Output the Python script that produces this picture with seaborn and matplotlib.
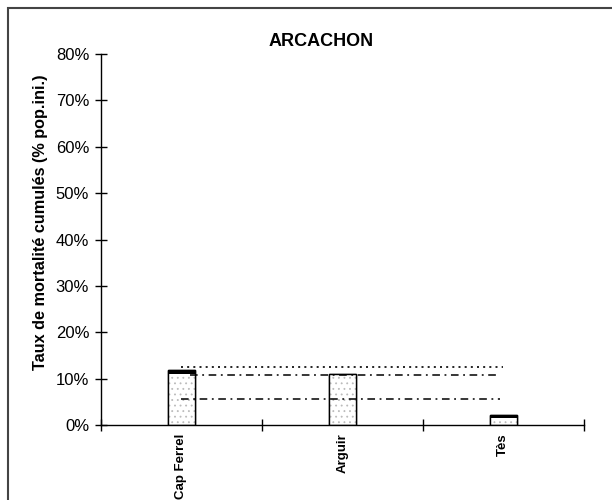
import pandas as pd
import seaborn as sns
import matplotlib

matplotlib.use('Agg')
import matplotlib.pyplot as plt
from matplotlib.patches import Rectangle
from matplotlib.ticker import FuncFormatter, FixedLocator

# données (% de la population initiale)
sites = ["Cap Ferrel", "Arguir", "Tès"]
mort_base = [10.9, 10.7, 1.6]      # partie pointillée
mort_total = [11.85, 11.1, 2.2]    # sommet du segment noir
ref_pointille = 12.5
ref_tiret_haut = 10.8
ref_tiret_bas = 5.5

df = pd.DataFrame({"site": sites, "base": mort_base, "total": mort_total})

sns.set_style("white")
plt.rcParams['font.family'] = ['Liberation Sans', 'DejaVu Sans']
plt.rcParams['hatch.linewidth'] = 0.6
plt.rcParams['text.color'] = 'black'
plt.rcParams['axes.labelcolor'] = 'black'
plt.rcParams['xtick.color'] = 'black'
plt.rcParams['ytick.color'] = 'black'

fig = plt.figure(figsize=(6.12, 5.0), dpi=100)
ax = fig.add_axes([0.165, 0.15, 0.789, 0.742])

# cadre du graphique
fig.patches.append(Rectangle((8 / 612, -0.05), 1.1, 1 - 8 / 500 + 0.05, transform=fig.transFigure,
                             fill=False, edgecolor="#444444", linewidth=1.5))

# segment noir = total, partie pointillée par dessus
sns.barplot(data=df, x="site", y="total", color="black", width=0.17, saturation=1,
            edgecolor="black", linewidth=1, ax=ax)
sns.barplot(data=df, x="site", y="base", color="white", width=0.17, saturation=1,
            edgecolor="#bbbbbb", linewidth=0, hatch="...", ax=ax)
sns.barplot(data=df, x="site", y="total", fill=False, width=0.17,
            edgecolor="black", linewidth=1, ax=ax)

ax.hlines(ref_pointille, 0, 2, colors="black", linestyles=(0, (1.2, 2.5)), linewidth=1.2)
ax.hlines(ref_tiret_haut, 0.05, 1.97, colors="black", linestyles=(0, (5, 3, 1.2, 3)), linewidth=1.1)
ax.hlines(ref_tiret_bas, 0, 1.98, colors="black", linestyles=(0, (5, 3, 1.2, 3)), linewidth=1.1)

ax.set_ylim(0, 80)
ax.set_xlim(-0.5, 2.5)
ax.set_yticks(range(0, 81, 10))
ax.yaxis.set_major_formatter(FuncFormatter(lambda v, p: f"{v:.0f}%"))
ax.tick_params(axis="y", direction="inout", length=9, width=1, labelsize=12, pad=4, left=True)

ax.xaxis.set_minor_locator(FixedLocator([-0.5, 0.5, 1.5, 2.5]))
ax.tick_params(axis="x", which="major", length=0, labelsize=9.5, labelrotation=90, pad=6)
ax.tick_params(axis="x", which="minor", direction="inout", length=9, width=1, bottom=True)
for lab in ax.get_xticklabels():
    lab.set_fontweight("bold")

ax.set_xlabel("")
ax.set_ylabel("Taux de mortalité cumulés (% pop.ini.)", fontsize=11.7, fontweight="bold")
ax.yaxis.set_label_coords(-0.11, 0.547)
ax.set_title("ARCACHON", fontsize=13, fontweight="bold", pad=6, x=0.455)

sns.despine(ax=ax)
for s in ("left", "bottom"):
    ax.spines[s].set_color("black")
    ax.spines[s].set_linewidth(1)

fig.savefig("out.png", dpi=100)
